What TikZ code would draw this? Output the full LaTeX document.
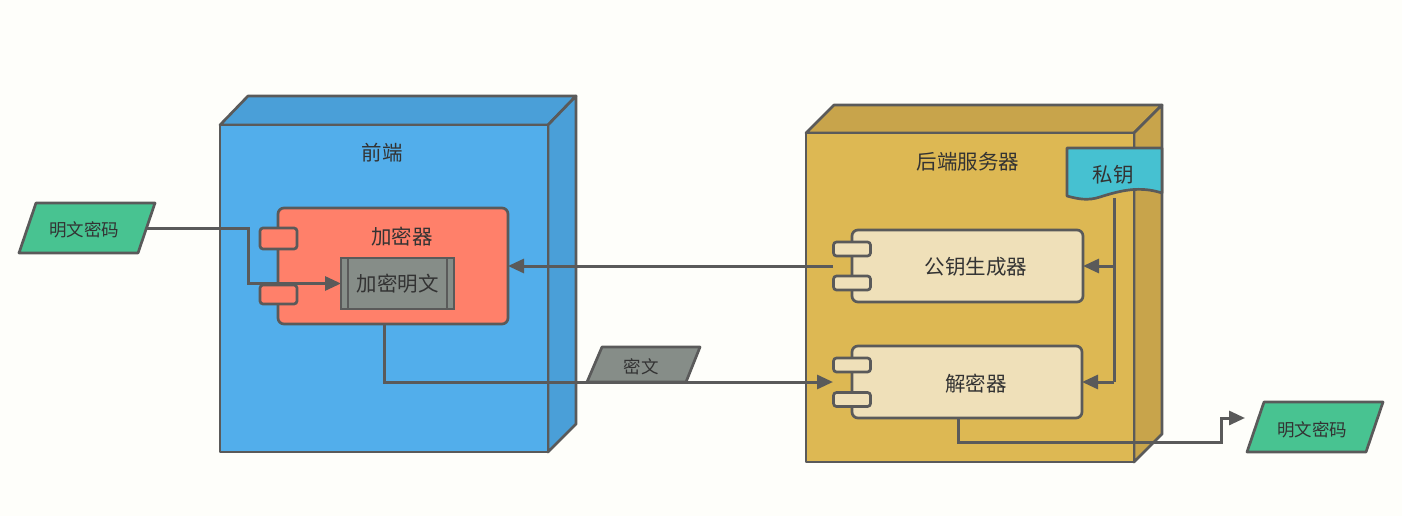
\documentclass[tikz,border=0pt]{standalone}
\usepackage{fontspec}
\setmainfont{Noto Sans CJK SC}
\usetikzlibrary{arrows.meta,shapes.geometric,calc}
\definecolor{bg}{HTML}{FEFEFA}
\definecolor{ln}{HTML}{5A5A5A}
\definecolor{txt}{HTML}{333333}
\definecolor{bluefront}{HTML}{52AEEB}
\definecolor{blueside}{HTML}{4A9FD8}
\definecolor{goldfront}{HTML}{DDB853}
\definecolor{goldside}{HTML}{C8A44B}
\definecolor{salmon}{HTML}{FF806A}
\definecolor{grayc}{HTML}{868D88}
\definecolor{greenc}{HTML}{48C391}
\definecolor{creamc}{HTML}{EFE0B9}
\definecolor{cyanc}{HTML}{46C1D1}
\tikzset{
  every node/.style={outer sep=0pt, inner sep=0pt, text=txt},
  big/.style={font=\fontsize{20.5}{24}\selectfont},
  small/.style={font=\fontsize{17.5}{21}\selectfont},
  face/.style={draw=ln, line width=2.7pt, line join=round},
  comp/.style={draw=ln, line width=2.7pt, rounded corners=6pt},
  port/.style={draw=ln, line width=2.7pt, rounded corners=3pt, minimum width=37pt},
  arr/.style={draw=ln, line width=3pt, -{Triangle[length=16pt,width=14pt]}},
  conn/.style={draw=ln, line width=3pt},
}
\begin{document}
\begin{tikzpicture}[x=1pt,y=-1pt]
\fill[bg] (0,0) rectangle (1402,516);
\useasboundingbox (0,0) rectangle (1402,516);

% Frontend 3D box
\filldraw[face, fill=blueside] (220,125) -- (248,96) -- (576,96) -- (548,125) -- cycle;
\filldraw[face, fill=blueside] (548,125) -- (576,96) -- (576,424) -- (548,452) -- cycle;
\node[face, fill=bluefront, minimum width=328pt, minimum height=327pt] (fe) at (384,288.5) {};
\node[big] (felabel) at (382,153) {前端};

% Backend 3D box
\filldraw[face, fill=goldside] (806,133) -- (834,105) -- (1162,105) -- (1134,133) -- cycle;
\filldraw[face, fill=goldside] (1134,133) -- (1162,105) -- (1162,434) -- (1134,462) -- cycle;
\node[face, fill=goldfront, minimum width=328pt, minimum height=329pt] (be) at (970,297.5) {};
\node[big] (belabel) at (968,162) {后端服务器};

% Encryptor component
\node[comp, fill=salmon, minimum width=230pt, minimum height=116pt] (enc) at (393,266) {};
\node[port, fill=salmon, minimum height=21pt] (encp1) at (278.5,238.5) {};
\node[port, fill=salmon, minimum height=19pt] (encp2) at (278.5,294.5) {};
\node[big] (enclabel) at (402,237) {加密器};
\node[draw=ln, line width=2.7pt, fill=grayc, minimum width=113pt, minimum height=51pt, big] (inner) at (397.5,283.5) {加密明文};
\draw[ln, line width=2pt] ([xshift=7pt]inner.north west) -- ([xshift=7pt]inner.south west);
\draw[ln, line width=2pt] ([xshift=-7pt]inner.north east) -- ([xshift=-7pt]inner.south east);

% Public key generator
\node[comp, fill=creamc, minimum width=231pt, minimum height=72pt] (pub) at (967.5,266) {};
\node[port, fill=creamc, minimum height=14pt] (pubp1) at (852,249) {};
\node[port, fill=creamc, minimum height=14pt] (pubp2) at (852,283) {};
\node[big] (publabel) at (976,267) {公钥生成器};

% Decryptor
\node[comp, fill=creamc, minimum width=230pt, minimum height=72pt] (dec) at (967,382) {};
\node[port, fill=creamc, minimum height=14pt] (decp1) at (852,365) {};
\node[port, fill=creamc, minimum height=14pt] (decp2) at (852,399.5) {};
\node[big] (declabel) at (976,384) {解密器};

% Private key document
\filldraw[face, fill=cyanc] (1067,148) -- (1162,148) -- (1162,193)
  .. controls (1140,186) and (1122,190) .. (1100,197)
  .. controls (1088,201) and (1078,199) .. (1067,196) -- cycle;
\node[big] (key) at (1113,175) {私钥};
\coordinate (keyb) at (1114,198);

% Parallelograms
\filldraw[face, fill=greenc] (19,253) -- (36,203) -- (155,203) -- (138,253) -- cycle;
\node[small] (p1) at (84,230) {明文密码};
\coordinate (p1e) at (147,228);
\filldraw[face, fill=grayc] (587,382) -- (602,347) -- (700,347) -- (686,382) -- cycle;
\node[small] (p2) at (641,367) {密文};
\filldraw[face, fill=greenc] (1247,452) -- (1264,402) -- (1383,402) -- (1366,452) -- cycle;
\node[small] (p3) at (1312,430) {明文密码};

% Connectors
\coordinate (b1) at (248,228);
\draw[arr] (p1e) -- (b1) |- (inner.west);
\draw[arr] ([xshift=-19pt]pub.west) -- (enc.east);
\coordinate (b2) at (384,382);
\draw[arr] ([xshift=-9pt]enc.south) -- (b2) -- ([xshift=-19pt]dec.west);
\coordinate (kb1) at (1114,266);
\coordinate (kb2) at (1114,382);
\draw[conn] (keyb) -- (kb2);
\draw[arr] (kb1) -- (pub.east);
\draw[arr] (kb2) -- (dec.east);
\coordinate (d1) at (958,442);
\coordinate (d2) at (1221,442);
\coordinate (out) at (1245,418);
\draw[arr] ([xshift=-9pt]dec.south) -- (d1) -- (d2) |- (out);
\end{tikzpicture}
\end{document}
